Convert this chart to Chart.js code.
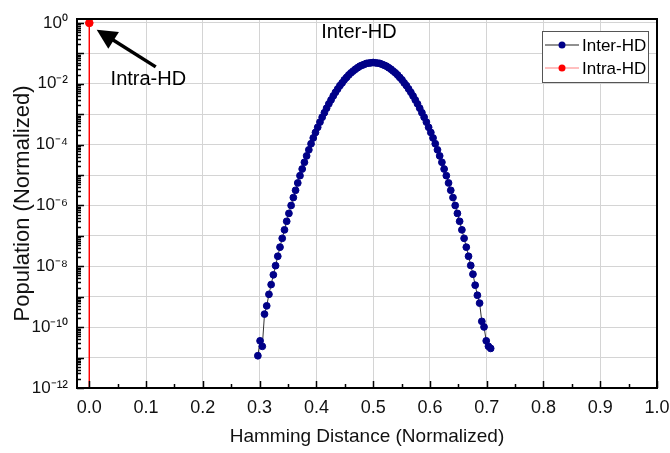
<!DOCTYPE html>
<html><head><meta charset="utf-8">
<script src="https://cdn.jsdelivr.net/npm/chart.js@4.4.1/dist/chart.umd.min.js"></script>
<style>html,body{margin:0;padding:0;background:#fff;}canvas{display:block;}</style>
</head><body>
<canvas id="c" width="670" height="453"></canvas>
<script>
// ---- data ----
const seriesNames = ['Inter-HD', 'Intra-HD'];
const interHD_x = [0.2969,0.3008,0.3047,0.3086,0.3125,0.3164,0.3203,0.3242,0.3281,0.3320,0.3359,0.3398,0.3438,0.3477,0.3516,0.3555,0.3594,0.3633,0.3672,0.3711,0.3750,0.3789,0.3828,0.3867,0.3906,0.3945,0.3984,0.4023,0.4063,0.4102,0.4141,0.4180,0.4219,0.4258,0.4297,0.4336,0.4375,0.4414,0.4453,0.4492,0.4531,0.4570,0.4609,0.4648,0.4688,0.4727,0.4766,0.4805,0.4844,0.4883,0.4922,0.4961,0.5000,0.5039,0.5078,0.5117,0.5156,0.5195,0.5234,0.5273,0.5313,0.5352,0.5391,0.5430,0.5469,0.5508,0.5547,0.5586,0.5625,0.5664,0.5703,0.5742,0.5781,0.5820,0.5859,0.5898,0.5938,0.5977,0.6016,0.6055,0.6094,0.6133,0.6172,0.6211,0.6250,0.6289,0.6328,0.6367,0.6406,0.6445,0.6484,0.6523,0.6563,0.6602,0.6641,0.6680,0.6719,0.6758,0.6797,0.6836,0.6875,0.6914,0.6953,0.6992,0.7031,0.7070];
const interHD_y = [1.15e-11,3.55e-11,2.34e-11,2.69e-10,5.01e-10,1.20e-9,2.51e-9,5.25e-9,1.05e-8,2.14e-8,4.27e-8,8.32e-8,1.58e-7,3.02e-7,5.50e-7,1.00e-6,1.82e-6,3.16e-6,5.50e-6,9.55e-6,1.58e-5,2.63e-5,4.27e-5,6.76e-5,1.07e-4,1.66e-4,2.51e-4,3.72e-4,5.50e-4,7.94e-4,1.12e-3,1.58e-3,2.19e-3,2.95e-3,3.98e-3,5.25e-3,6.76e-3,8.71e-3,1.07e-2,1.35e-2,1.62e-2,1.95e-2,2.29e-2,2.63e-2,3.02e-2,3.39e-2,3.80e-2,4.07e-2,4.37e-2,4.68e-2,4.79e-2,4.90e-2,5.01e-2,4.90e-2,4.79e-2,4.68e-2,4.37e-2,4.07e-2,3.80e-2,3.39e-2,3.02e-2,2.63e-2,2.29e-2,1.95e-2,1.62e-2,1.35e-2,1.07e-2,8.71e-3,6.76e-3,5.25e-3,3.98e-3,2.95e-3,2.19e-3,1.58e-3,1.12e-3,7.94e-4,5.50e-4,3.72e-4,2.51e-4,1.66e-4,1.07e-4,6.76e-5,4.27e-5,2.63e-5,1.58e-5,9.55e-6,5.50e-6,3.16e-6,1.82e-6,1.00e-6,5.50e-7,3.02e-7,1.58e-7,8.32e-8,4.27e-8,2.14e-8,1.07e-8,5.50e-9,2.40e-9,1.12e-9,6.17e-10,1.55e-10,1.02e-10,3.55e-11,2.34e-11,2.00e-11];
const intraHD_x = [0, 0];
const intraHD_y = [1, 1e-13];
const xTickValues = [0,0.1,0.2,0.3,0.4,0.5,0.6,0.7,0.8,0.9,1.0];
const yTickExponents = [-12,-11,-10,-9,-8,-7,-6,-5,-4,-3,-2,-1,0];
const xTitle = 'Hamming Distance (Normalized)';
const yTitle = 'Population (Normalized)';
const annotations = [
  {text: 'Inter-HD', x: 0.475, y: 0.50},
  {text: 'Intra-HD', x: 0.104, y: 0.0135}
];
const arrowFrom = {x: 0.117, y: 0.036};
const arrowTo = {x: 0.013, y: 0.60};

// ---- helpers ----
const SUP = {'0':'\u2070','1':'\u00B9','2':'\u00B2','3':'\u00B3','4':'\u2074','5':'\u2075','6':'\u2076','7':'\u2077','8':'\u2078','9':'\u2079','-':'\u207B'};
function sup(n){ return String(n).split('').map(c => SUP[c]).join(''); }
const FONT = "'Liberation Sans', Arial, sans-serif";

const interColor = '#000088';
const intraColor = '#ff0000';

const decorPlugin = {
  id: 'decor',
  afterDraw(chart) {
    const ctx = chart.ctx;
    const xs = chart.scales.x, ys = chart.scales.y;
    const a = chart.chartArea;
    ctx.save();
    // inward ticks
    ctx.strokeStyle = '#000';
    ctx.lineWidth = 1.5;
    ctx.beginPath();
    for (let i = 0; i <= 20; i++) {
      const v = i * 0.05;
      const px = Math.round(xs.getPixelForValue(v)) + 0.5;
      const len = (i % 2 === 0) ? 7 : 4;
      ctx.moveTo(px, a.bottom); ctx.lineTo(px, a.bottom - len);
    }
    yTickExponents.forEach(e => {
      for (let m = 1; m <= 9; m++) {
        const v = m * Math.pow(10, e);
        if (v > ys.max) continue;
        const py = Math.round(ys.getPixelForValue(v)) + 0.5;
        const len = (m === 1) ? 7 : 4;
        ctx.moveTo(a.left, py); ctx.lineTo(a.left + len, py);
      }
    });
    ctx.stroke();
    // frame
    ctx.lineWidth = 2;
    ctx.strokeRect(a.left, a.top, a.right - a.left, a.bottom - a.top);

    // annotations
    ctx.fillStyle = '#000';
    ctx.font = '20px ' + FONT;
    ctx.textAlign = 'center';
    ctx.textBaseline = 'middle';
    annotations.forEach(t => {
      ctx.fillText(t.text, xs.getPixelForValue(t.x), ys.getPixelForValue(t.y));
    });
    // arrow
    const x1 = xs.getPixelForValue(arrowFrom.x), y1 = ys.getPixelForValue(arrowFrom.y);
    const x2 = xs.getPixelForValue(arrowTo.x), y2 = ys.getPixelForValue(arrowTo.y);
    const ang = Math.atan2(y2 - y1, x2 - x1);
    const hl = 20, hw = 10;
    const bx = x2 - hl * Math.cos(ang), by = y2 - hl * Math.sin(ang);
    ctx.lineWidth = 3.5;
    ctx.beginPath(); ctx.moveTo(x1, y1); ctx.lineTo(bx + 2 * Math.cos(ang), by + 2 * Math.sin(ang)); ctx.stroke();
    ctx.beginPath();
    ctx.moveTo(x2, y2);
    ctx.lineTo(bx + hw * Math.sin(ang), by - hw * Math.cos(ang));
    ctx.lineTo(bx - hw * Math.sin(ang), by + hw * Math.cos(ang));
    ctx.closePath(); ctx.fill();

    // legend
    const lx = a.right - 115, ly = a.top + 12, lw = 106, lh = 51;
    ctx.fillStyle = '#fff';
    ctx.fillRect(lx, ly, lw, lh);
    ctx.strokeStyle = '#555';
    ctx.lineWidth = 1;
    ctx.strokeRect(lx + 0.5, ly + 0.5, lw, lh);
    const rows = [
      {name: seriesNames[0], line: '#222', dot: interColor, y: ly + 14},
      {name: seriesNames[1], line: '#ff8080', dot: intraColor, y: ly + 37}
    ];
    ctx.font = '17px ' + FONT;
    ctx.textAlign = 'left';
    rows.forEach(r => {
      ctx.strokeStyle = r.line; ctx.lineWidth = 1.2;
      ctx.beginPath(); ctx.moveTo(lx + 3, r.y); ctx.lineTo(lx + 37, r.y); ctx.stroke();
      ctx.fillStyle = r.dot;
      ctx.beginPath(); ctx.arc(lx + 20, r.y, 3.5, 0, Math.PI * 2); ctx.fill();
      ctx.fillStyle = '#000';
      ctx.fillText(r.name, lx + 40, r.y + 1);
    });
    ctx.restore();
  }
};

new Chart(document.getElementById('c'), {
  type: 'line',
  data: {
    datasets: [
      {
        label: seriesNames[0],
        data: interHD_x.map((x, i) => ({x, y: interHD_y[i]})),
        borderColor: '#333',
        borderWidth: 1,
        pointRadius: 3.4,
        pointBorderWidth: 1,
        pointBackgroundColor: interColor,
        pointBorderColor: interColor,
        tension: 0
      },
      {
        label: seriesNames[1],
        data: intraHD_x.map((x, i) => ({x, y: intraHD_y[i]})),
        borderColor: intraColor,
        borderWidth: 1,
        pointRadius: [3.8, 0],
        pointBorderWidth: 1,
        pointBackgroundColor: intraColor,
        pointBorderColor: intraColor
      }
    ]
  },
  options: {
    responsive: false,
    animation: false,
    devicePixelRatio: 1,
    layout: {padding: {left: 0, top: 19, right: 13, bottom: 0}},
    plugins: {legend: {display: false}, tooltip: {enabled: false}, title: {display: false}},
    scales: {
      x: {
        type: 'linear',
        min: -0.0217,
        max: 1.0,
        afterBuildTicks: s => { s.ticks = xTickValues.map(v => ({value: v})); },
        afterFit: s => { s.height = 65; s.paddingLeft = 0; s.paddingRight = 0; },
        grid: {color: '#d4d4d4', lineWidth: 1, drawTicks: false},
        border: {display: false},
        ticks: {
          padding: 9,
          color: '#111',
          font: {family: FONT, size: 18},
          maxRotation: 0,
          autoSkip: false,
          callback: v => Number(v).toFixed(1)
        },
        title: {display: true, text: xTitle, color: '#111', font: {family: FONT, size: 19}, padding: {top: 0, bottom: 5}}
      },
      y: {
        type: 'logarithmic',
        min: 1e-12,
        max: 1.35,
        afterBuildTicks: s => { s.ticks = yTickExponents.map(e => ({value: Math.pow(10, e)})); },
        afterFit: s => { s.width = 77; s.paddingTop = 0; s.paddingBottom = 0; },
        grid: {color: '#d4d4d4', lineWidth: 1, drawTicks: false},
        border: {display: false},
        ticks: {
          padding: 9,
          color: '#111',
          font: {family: FONT, size: 17},
          autoSkip: false,
          callback: v => {
            const e = Math.round(Math.log10(v));
            return (e % 2 === 0) ? '10' + sup(e) : '';
          }
        },
        title: {display: true, text: yTitle, color: '#111', font: {family: FONT, size: 22}, padding: {top: 10, bottom: 0}}
      }
    }
  },
  plugins: [decorPlugin]
});
</script>
</body></html>
